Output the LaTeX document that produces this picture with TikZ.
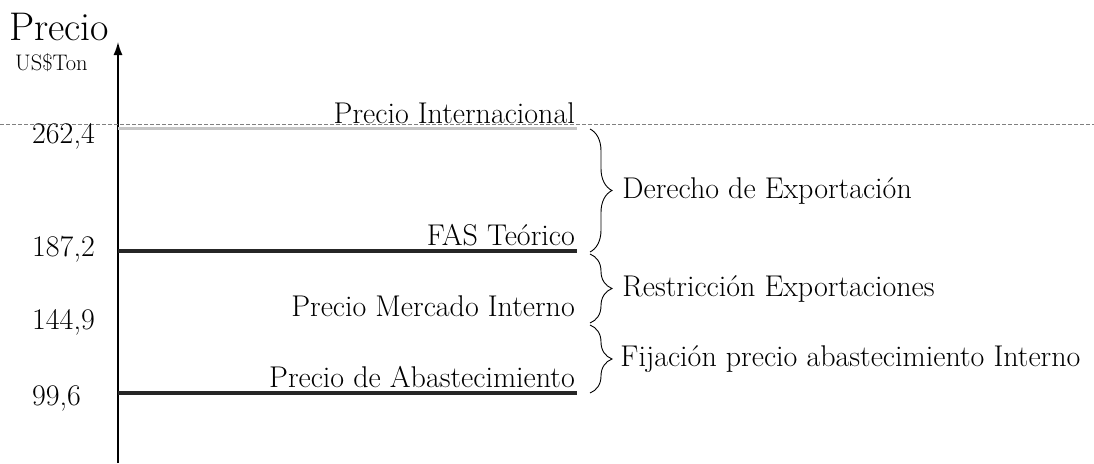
\documentclass[tikz,border=0pt]{standalone}
\usepackage{tikz}
\usetikzlibrary{arrows.meta, positioning, decorations.pathreplacing}

\begin{document}
\begin{tikzpicture}[x=1pt, y=-1pt,
    lbl/.style={font=\fontsize{30}{36}\selectfont, inner sep=0pt},
    pricebar/.style={line width=4pt, black!85},
    bracket/.style={decorate, decoration={brace, amplitude=22pt}, line width=0.9pt}]
    \useasboundingbox (0,0) rectangle (1094,463);

    % Axis
    \coordinate (origin) at (118,463);
    \coordinate (top) at (118,42);
    \draw[line width=1.4pt, -{Latex[length=13pt,width=9pt]}] (origin) -- (top);
    \node[anchor=base west, inner sep=0pt, font=\fontsize{40}{44}\selectfont] (title) at (9,40) {Precio};
    \node[anchor=base west, inner sep=0pt, font=\fontsize{22.5}{26}\selectfont] (unit) at (15,70) {US\$Ton};

    % Price levels
    \coordinate (ref-l) at (0,124);
    \coordinate (ref-r) at (1094,124);
    \draw[gray, line width=0.8pt, dash pattern=on 4pt off 2pt] (ref-l) -- (ref-r);
    \coordinate (intl-l) at (118,128);
    \coordinate (intl-r) at (577,128);
    \draw[line width=3pt, gray!45] (intl-l) -- (intl-r);
    \coordinate (fas-l) at (118,251);
    \coordinate (fas-r) at (577,251);
    \draw[pricebar] (fas-l) -- (fas-r);
    \coordinate (abast-l) at (118,393);
    \coordinate (abast-r) at (577,393);
    \draw[pricebar] (abast-l) -- (abast-r);

    \node[lbl, anchor=base east] (intl) at (575,123) {Precio Internacional};
    \node[lbl, anchor=base east] (fas) at (575,245) {FAS Te\'orico};
    \node[lbl, anchor=base east] (mercado) at (575,316) {Precio Mercado Interno};
    \node[lbl, anchor=base east] (abast) at (575,387) {Precio de Abastecimiento};

    % Values
    \node[lbl, anchor=base west] (v1) at (32,143) {262,4};
    \node[lbl, anchor=base west] (v2) at (32,256) {187,2};
    \node[lbl, anchor=base west] (v3) at (32,329) {144,9};
    \node[lbl, anchor=base west] (v4) at (32,405) {99,6};

    % Braces
    \coordinate (b1a) at (590,129);
    \coordinate (b1b) at (590,252);
    \coordinate (b2a) at (590,254);
    \coordinate (b2b) at (590,323);
    \coordinate (b3a) at (590,325);
    \coordinate (b3b) at (590,393);
    \draw[bracket] (b1a) -- (b1b) node[lbl, midway, anchor=west, xshift=32pt] (derecho) {Derecho de Exportaci\'on};
    \draw[bracket] (b2a) -- (b2b) node[lbl, midway, anchor=west, xshift=32pt] (restr) {Restricci\'on Exportaciones};
    \draw[bracket] (b3a) -- (b3b) node[lbl, midway, anchor=west, xshift=30pt] (fij) {Fijaci\'on precio abastecimiento Interno};
\end{tikzpicture}
\end{document}
